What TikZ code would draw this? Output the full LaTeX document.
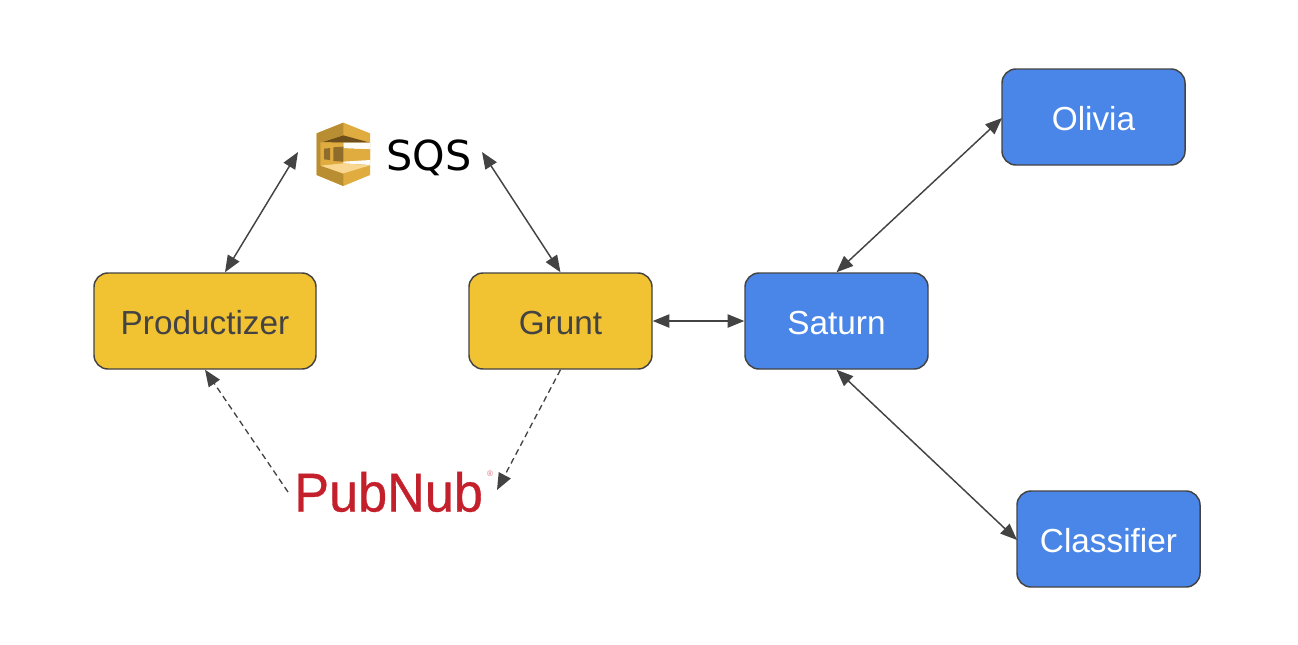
\documentclass[tikz,border=0pt]{standalone}
\usepackage{fontspec}
\setmainfont{Liberation Sans}
\newfontfamily\sqsfont{DejaVu Sans}
\newfontfamily\pubfont[FakeBold=0.6,FakeStretch=0.955]{Liberation Sans}
\usetikzlibrary{arrows.meta}
\definecolor{ink}{HTML}{434343}
\definecolor{gold}{HTML}{F1C232}
\definecolor{azure}{HTML}{4A86E8}
\definecolor{pubred}{HTML}{C4202C}
\definecolor{lgA}{HTML}{B98E33}
\definecolor{lgB}{HTML}{E0AC3F}
\definecolor{lgC}{HTML}{6E4F1C}
\definecolor{lgD}{HTML}{FAD791}
\definecolor{lgE}{HTML}{8F6C2B}
\tikzset{
  box/.style={draw=ink,line width=1.1pt,rounded corners=10.5pt,minimum height=72pt,minimum width=137.25pt,inner sep=0pt,text height=20pt,text depth=0pt,font=\fontsize{25}{30}\selectfont},
  ybox/.style={box,fill=gold,text=ink},
  bbox/.style={box,fill=azure,text=white},
  link/.style={draw=ink,line width=1.1pt,{Triangle[length=12.5pt,width=10pt]}-{Triangle[length=12.5pt,width=10pt]}},
  dlink/.style={draw=ink,line width=1pt,dash pattern=on 4.5pt off 3pt,-{Triangle[length=12.5pt,width=10pt]}}
}
\begin{document}
\begin{tikzpicture}[x=0.75pt,y=-0.75pt]
\useasboundingbox (0,0) rectangle (1298,644);
\node[ybox,minimum width=166.5pt] (prod) at (205,321) {Productizer};
\node[ybox] (grunt) at (560.5,321) {Grunt};
\node[bbox] (saturn) at (836.5,321) {Saturn};
\node[bbox] (olivia) at (1093.5,117) {Olivia};
\node[bbox] (classifier) at (1108.5,539) {Classifier};
\node[inner sep=0pt,font=\sqsfont\fontsize{31}{36}\selectfont,text=black] (sqs) at (429,158) {SQS};
\node[inner sep=0pt,font=\pubfont\fontsize{41}{48}\selectfont,text=pubred,anchor=base west] (pub) at (294,511.5) {PubNub};
\node[inner sep=0pt,font=\fontsize{6}{6}\selectfont,text=pubred!65] (reg) at (490,474) {®};
\coordinate (sqsL) at (298,152);
\coordinate (sqsR) at (482,152);
\coordinate (pubL) at (288,492);
\coordinate (pubR) at (497,490);
\coordinate (olivT) at (1002,118);
\coordinate (clasT) at (1017,540);
\begin{scope}[shift={(290,100)},x=0.25pt,y=-0.25pt]
\fill[lgB] (80,100)--(160,68)--(240,100)--(240,225)--(160,258)--(80,225)--cycle;
\fill[lgA] (80,100)--(160,68)--(160,105)--(92,127)--(92,197)--(160,222)--(160,258)--(80,225)--cycle;
\fill[lgC] (95,127)--(160,106)--(240,128)--(160,128)--cycle;
\fill[white!97!lgB] (240,128)--(160,128)--(160,145)--(240,148)--cycle;
\fill[lgB] (92,127)--(160,128)--(160,145)--(240,148)--(240,180)--(160,185)--(160,190)--(92,195)--cycle;
\fill[lgE] (130,142)--(160,140)--(160,185)--(130,183)--cycle;
\fill[lgE] (102,146)--(120,144)--(120,180)--(102,178)--cycle;
\fill[white!97!lgB] (240,180)--(160,185)--(160,190)--(240,195)--cycle;
\fill[lgD] (92,197)--(160,190)--(240,196)--(160,220)--cycle;
\end{scope}
\draw[link] (sqsL) -- ([xshift=15pt]prod.north);
\draw[link] (sqsR) -- (grunt.north);
\draw[link] (grunt.east) -- (saturn.west);
\draw[link] (saturn.north) -- (olivT);
\draw[link] (saturn.south) -- (clasT);
\draw[dlink] (pubL) -- (prod.south);
\draw[dlink] (grunt.south) -- (pubR);
\end{tikzpicture}
\end{document}
